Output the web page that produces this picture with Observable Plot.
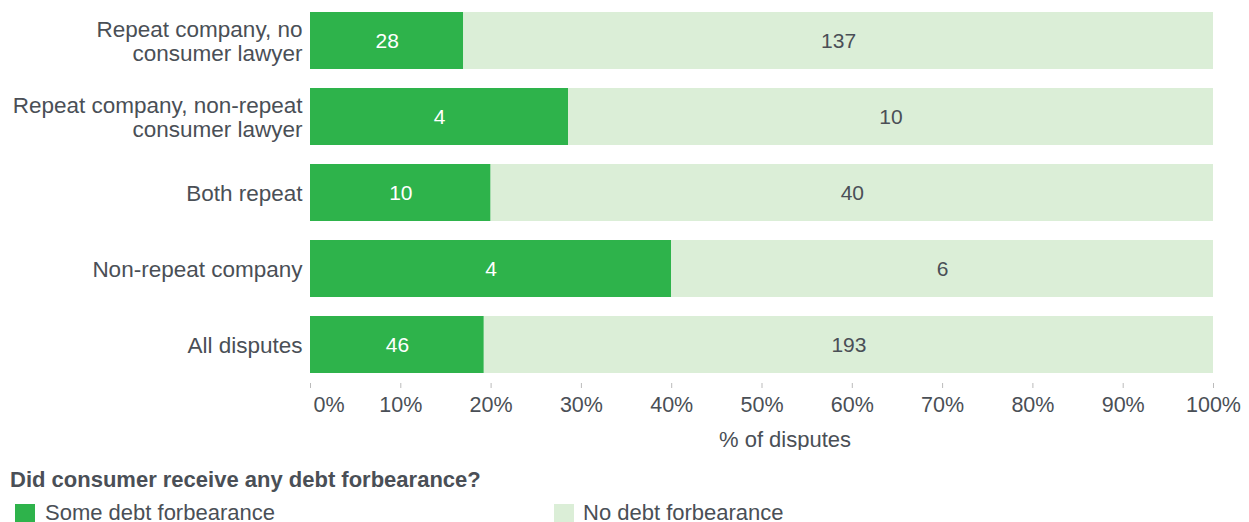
<!DOCTYPE html>
<html>
<head>
<meta charset="utf-8">
<script src="https://cdn.jsdelivr.net/npm/d3@7"></script>
<script src="https://cdn.jsdelivr.net/npm/@observablehq/plot@0.6"></script>
<style>
  html, body { margin: 0; padding: 0; background: #fff; }
  body { width: 1249px; height: 522px; overflow: hidden; font-family: "Liberation Sans", Arial, Helvetica, sans-serif; color: #4a4f56; }
  #chart svg { display: block; }
  .legend-title { font-weight: bold; font-size: 22px; line-height: 25px; margin: 17px 0 0 10px; white-space: nowrap; }
  .legend { position: relative; height: 25px; margin-top: 8px; font-size: 22px; line-height: 25px; }
  .sw { position: absolute; top: 4px; width: 20px; height: 20px; }
  .lbl { position: absolute; top: 0; white-space: nowrap; }
</style>
</head>
<body>
<div id="chart"></div>
<div class="legend-title" id="ltitle"></div>
<div class="legend" id="legend"></div>
<script>
const categories = [
  "Repeat company, no\nconsumer lawyer",
  "Repeat company, non-repeat\nconsumer lawyer",
  "Both repeat",
  "Non-repeat company",
  "All disputes"
];
const seriesNames = ["Some debt forbearance", "No debt forbearance"];
const someValues = [28, 4, 10, 4, 46];
const noneValues = [137, 10, 40, 6, 193];
const colors = ["#2eb34b", "#dbeed7"];
const textColors = ["#ffffff", "#4a4f56"];
const tickValues = [0, 10, 20, 30, 40, 50, 60, 70, 80, 90, 100];
const legendTitle = "Did consumer receive any debt forbearance?";
const axisLabel = "% of disputes";

const data = [];
categories.forEach((c, i) => {
  data.push({category: c, series: seriesNames[0], value: someValues[i]});
  data.push({category: c, series: seriesNames[1], value: noneValues[i]});
});

const fmt = d => d + "%";
const textColor = d => textColors[seriesNames.indexOf(d.series)];

const chart = Plot.plot({
  width: 1249,
  height: 450,
  marginLeft: 310,
  marginRight: 36,
  marginTop: 0,
  marginBottom: 67,
  style: {fontFamily: "'Liberation Sans', Arial, Helvetica, sans-serif", color: "#4a4f56", background: "#fff"},
  x: {percent: true, domain: [0, 100]},
  y: {domain: categories, range: [0, 385], paddingInner: 0.25, paddingOuter: 0.15},
  color: {domain: seriesNames, range: colors},
  marks: [
    Plot.barX(data, Plot.stackX({
      offset: "normalize",
      x: d => d.value,
      y: "category",
      fill: "series",
      order: seriesNames
    })),
    Plot.text(data, Plot.stackX({
      offset: "normalize",
      x: d => d.value,
      y: "category",
      z: "series",
      order: seriesNames,
      text: d => String(d.value),
      fill: textColor,
      fontSize: 21,
      textAnchor: "middle"
    })),
    Plot.axisY({
      tickSize: 0,
      tickPadding: 8,
      fontSize: 22.5,
      lineHeight: 1.1,
      label: null,
      fill: "#4a4f56"
    }),
    Plot.axisX({
      ticks: tickValues,
      tickSize: 5,
      stroke: "#bbbbbb",
      tickFormat: () => "",
      label: null
    }),
    Plot.axisX({
      ticks: tickValues.slice(1),
      tickSize: 0,
      tickPadding: 13,
      tickFormat: fmt,
      fontSize: 21.5,
      fill: "#4a4f56",
      label: null
    }),
    Plot.axisX({
      ticks: tickValues.slice(0, 1),
      tickSize: 0,
      tickPadding: 13,
      tickFormat: fmt,
      fontSize: 21.5,
      textAnchor: "start",
      dx: 3,
      fill: "#4a4f56",
      label: null
    }),
    Plot.text([axisLabel], {
      frameAnchor: "bottom",
      text: d => d,
      dx: 23,
      dy: 63,
      lineAnchor: "bottom",
      fontSize: 22,
      fill: "#4a4f56"
    })
  ]
});
document.getElementById("chart").appendChild(chart);

document.getElementById("ltitle").textContent = legendTitle;
const legend = document.getElementById("legend");
const itemX = [15, 554];
const labelX = [45, 583];
seriesNames.forEach((s, i) => {
  const sw = document.createElement("div");
  sw.className = "sw";
  sw.style.left = itemX[i] + "px";
  sw.style.background = colors[i];
  legend.appendChild(sw);
  const lb = document.createElement("div");
  lb.className = "lbl";
  lb.style.left = labelX[i] + "px";
  lb.textContent = s;
  legend.appendChild(lb);
});
</script>
</body>
</html>
